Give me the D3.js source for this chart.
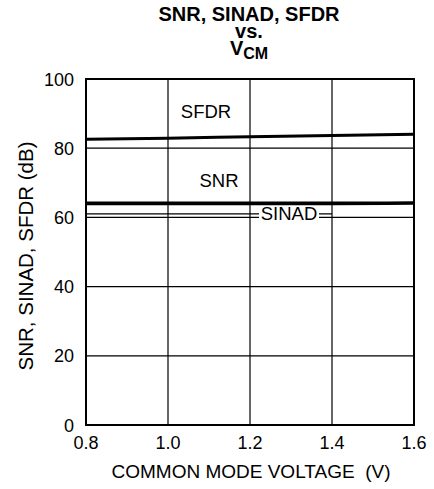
<!DOCTYPE html>
<html>
<head>
<meta charset="utf-8">
<script src="https://cdn.jsdelivr.net/npm/d3@7"></script>
<style>
  body { margin: 0; background: #fff; }
  text { font-family: "Liberation Sans", Arial, sans-serif; fill: #000; }
</style>
</head>
<body>
<script>
// values
var vcm = [0.8, 1.0, 1.2, 1.4, 1.6];
var sfdr = [82.6, 82.9, 83.3, 83.7, 84.0];
var snr = [64.2, 64.2, 64.2, 64.2, 64.3];
var sinad = [63.9, 63.9, 63.9, 63.9, 64.0];
var xTicks = [0.8, 1.0, 1.2, 1.4, 1.6];
var yTicks = [0, 20, 40, 60, 80, 100];

var width = 434, height = 489;
var margin = {top: 79, right: 20, bottom: 64, left: 86};

var svg = d3.select("body")
            .append("svg")
            .attr("width", width)
            .attr("height", height);

var x = d3.scaleLinear().domain([0.8, 1.6]).range([margin.left, 414]);
var y = d3.scaleLinear().domain([0, 100]).range([425, margin.top]);

// grid
svg.append("g")
    .selectAll("line")
    .data(xTicks.slice(1, -1))
    .enter().append("line")
      .attr("x1", function(d) { return x(d); })
      .attr("x2", function(d) { return x(d); })
      .attr("y1", y(0))
      .attr("y2", y(100))
      .attr("stroke", "#000")
      .attr("stroke-width", 1.2);
svg.append("g")
    .selectAll("line")
    .data(yTicks.slice(1, -1))
    .enter().append("line")
      .attr("x1", x(0.8))
      .attr("x2", x(1.6))
      .attr("y1", function(d) { return y(d); })
      .attr("y2", function(d) { return y(d); })
      .attr("stroke", "#000")
      .attr("stroke-width", 1.2);

// frame
svg.append("rect")
    .attr("x", x(0.8))
    .attr("y", y(100))
    .attr("width", x(1.6) - x(0.8))
    .attr("height", y(0) - y(100))
    .attr("fill", "none")
    .attr("stroke", "#000")
    .attr("stroke-width", 2);

// tick labels
svg.append("g")
    .selectAll("text")
    .data(yTicks)
    .enter().append("text")
      .attr("x", 74)
      .attr("y", function(d) { return y(d) + 6.5; })
      .attr("text-anchor", "end")
      .style("font-size", "18px")
      .text(function(d) { return d; });
svg.append("g")
    .selectAll("text")
    .data(xTicks)
    .enter().append("text")
      .attr("x", function(d) { return x(d); })
      .attr("y", 449)
      .attr("text-anchor", "middle")
      .style("font-size", "18px")
      .text(function(d) { return d3.format(".1f")(d); });

// SINAD leader line (broken by the label)
svg.append("line")
    .attr("x1", x(0.8)).attr("x2", x(1.4))
    .attr("y1", y(61)).attr("y2", y(61))
    .attr("stroke", "#000").attr("stroke-width", 1.2);
svg.append("rect")
    .attr("x", 259).attr("y", y(61) - 8)
    .attr("width", 60).attr("height", 16)
    .attr("fill", "#fff");

// curves
var line = d3.line()
    .x(function(d) { return x(d[0]); })
    .y(function(d) { return y(d[1]); })
    .curve(d3.curveMonotoneX);

[[sfdr, 3], [snr, 2.5], [sinad, 2.5]].forEach(function(s) {
  svg.append("path")
      .datum(vcm.map(function(v, i) { return [v, s[0][i]]; }))
      .attr("d", line)
      .attr("fill", "none")
      .attr("stroke", "#000")
      .attr("stroke-width", s[1]);
});

// curve labels
svg.append("text").attr("x", 206).attr("y", 118).attr("text-anchor", "middle")
    .style("font-size", "18.5px").text("SFDR");
svg.append("text").attr("x", 219).attr("y", 187).attr("text-anchor", "middle")
    .style("font-size", "18.5px").text("SNR");
svg.append("text").attr("x", 289).attr("y", 220).attr("text-anchor", "middle")
    .style("font-size", "18.5px").text("SINAD");

// titles
var title = svg.append("g").attr("text-anchor", "middle")
    .style("font-weight", "bold").style("font-size", "20px");
title.append("text").attr("x", 249).attr("y", 21).text("SNR, SINAD, SFDR");
title.append("text").attr("x", 249).attr("y", 38).text("vs.");
var vt = title.append("text").attr("x", 249).attr("y", 55);
vt.append("tspan").text("V");
vt.append("tspan").attr("dy", 4).style("font-size", "16px").text("CM");

svg.append("text")
    .attr("x", 251).attr("y", 478)
    .attr("text-anchor", "middle")
    .style("font-size", "19px")
    .style("white-space", "pre")
    .text("COMMON MODE VOLTAGE  (V)");

svg.append("text")
    .attr("transform", "translate(33,256) rotate(-90)")
    .attr("text-anchor", "middle")
    .style("font-size", "20.5px")
    .text("SNR, SINAD, SFDR (dB)");
</script>
</body>
</html>
